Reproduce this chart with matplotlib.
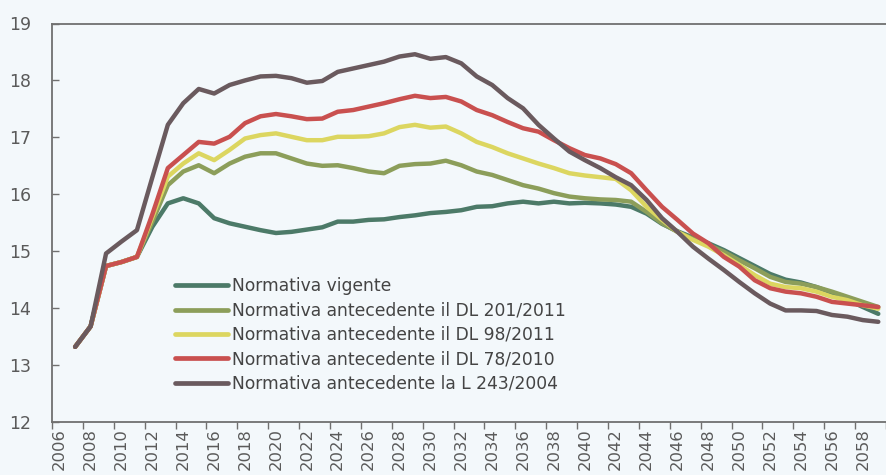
import numpy as np
import matplotlib.pyplot as plt

plt.rcParams['font.family'] = 'DejaVu Sans'

# ---------------------------------------------------------------------------
# dati
# ---------------------------------------------------------------------------
years = list(range(2007, 2060))

vigente = [13.32, 13.68, 14.74, 14.81, 14.90, 15.43, 15.84, 15.93, 15.84, 15.58,
           15.49, 15.43, 15.37, 15.32, 15.34, 15.38, 15.42, 15.52, 15.52, 15.55,
           15.56, 15.60, 15.63, 15.67, 15.69, 15.72, 15.78, 15.79, 15.84, 15.87,
           15.84, 15.87, 15.84, 15.85, 15.84, 15.82, 15.78, 15.66, 15.48, 15.35,
           15.24, 15.14, 15.02, 14.88, 14.74, 14.60, 14.50, 14.45, 14.37, 14.27,
           14.15, 14.02, 13.90]

dl_201_2011 = [13.32, 13.68, 14.74, 14.81, 14.90, 15.52, 16.16, 16.40, 16.51, 16.37,
               16.54, 16.66, 16.72, 16.72, 16.63, 16.54, 16.50, 16.51, 16.46, 16.40,
               16.37, 16.50, 16.53, 16.54, 16.59, 16.51, 16.40, 16.34, 16.25, 16.16,
               16.10, 16.02, 15.96, 15.93, 15.91, 15.90, 15.87, 15.69, 15.49, 15.34,
               15.22, 15.11, 14.99, 14.84, 14.70, 14.55, 14.46, 14.43, 14.37, 14.29,
               14.20, 14.11, 14.02]

dl_98_2011 = [13.32, 13.68, 14.74, 14.81, 14.90, 15.60, 16.31, 16.54, 16.72, 16.60,
              16.78, 16.98, 17.04, 17.07, 17.01, 16.95, 16.95, 17.01, 17.01, 17.02,
              17.07, 17.18, 17.22, 17.17, 17.19, 17.07, 16.92, 16.83, 16.72, 16.63,
              16.54, 16.46, 16.37, 16.33, 16.30, 16.27, 16.07, 15.78, 15.55, 15.34,
              15.20, 15.08, 14.93, 14.76, 14.58, 14.43, 14.37, 14.35, 14.29, 14.20,
              14.14, 14.05, 13.99]

dl_78_2010 = [13.32, 13.68, 14.74, 14.81, 14.90, 15.65, 16.46, 16.69, 16.92, 16.89,
              17.01, 17.25, 17.37, 17.41, 17.37, 17.32, 17.33, 17.45, 17.48, 17.54,
              17.60, 17.67, 17.73, 17.69, 17.71, 17.63, 17.48, 17.39, 17.27, 17.16,
              17.10, 16.95, 16.81, 16.69, 16.63, 16.53, 16.37, 16.07, 15.78, 15.55,
              15.31, 15.14, 14.90, 14.73, 14.49, 14.35, 14.29, 14.26, 14.20, 14.11,
              14.08, 14.05, 14.02]

l_243_2004 = [13.32, 13.68, 14.96, 15.17, 15.37, 16.30, 17.22, 17.60, 17.85, 17.77,
              17.92, 18.00, 18.07, 18.08, 18.04, 17.96, 17.99, 18.15, 18.21, 18.27,
              18.33, 18.42, 18.46, 18.38, 18.41, 18.30, 18.07, 17.92, 17.69, 17.51,
              17.22, 16.98, 16.75, 16.60, 16.46, 16.30, 16.16, 15.90, 15.58, 15.34,
              15.08, 14.87, 14.67, 14.46, 14.26, 14.08, 13.96, 13.96, 13.95, 13.88,
              13.85, 13.79, 13.76]

labels = ['Normativa vigente',
          'Normativa antecedente il DL 201/2011',
          'Normativa antecedente il DL 98/2011',
          'Normativa antecedente il DL 78/2010',
          'Normativa antecedente la L 243/2004']
colors = ['#4c7a68', '#8c9e5a', '#dcd660', '#c9504f', '#6a5a5e']
series = [vigente, dl_201_2011, dl_98_2011, dl_78_2010, l_243_2004]

# ---------------------------------------------------------------------------
# grafico
# ---------------------------------------------------------------------------
bg = '#f3f8fb'
grey = '#707070'

fig = plt.figure(figsize=(8.86, 4.75), dpi=100, facecolor=bg)
ax = fig.add_axes([52 / 886, 1 - 422 / 475, 834 / 886, 398.5 / 475])
ax.set_facecolor(bg)

for i, (vals, lab, col) in enumerate(zip(series, labels, colors)):
    ax.plot(years, vals, color=col, lw=3.2, label=lab, zorder=2 + i,
            solid_capstyle='round', solid_joinstyle='round')

ax.set_xlim(2005.5, 2005.5 + 834 / 15.75)
ax.set_ylim(12, 19)

# assi
for side in ['left', 'bottom', 'top']:
    ax.spines[side].set_color(grey)
    ax.spines[side].set_linewidth(1.3)
ax.spines['right'].set_visible(False)

ax.set_yticks(range(12, 20))
ax.tick_params(axis='y', direction='in', length=5, width=1, color=grey,
               labelsize=12.5, labelcolor='#5a5a5a', pad=15)

ax.set_xticks(np.arange(2005.5, 2060, 2))
ax.set_xticklabels([])
ax.set_xticks(range(2006, 2060, 2), minor=True)
ax.set_xticklabels([str(y) for y in range(2006, 2060, 2)], minor=True,
                   rotation=90, fontsize=11.8, color='#5a5a5a')
ax.tick_params(axis='x', which='major', direction='out', length=5, width=1, color=grey)
ax.tick_params(axis='x', which='minor', length=0, pad=4.5)

leg = ax.legend(loc='upper left', bbox_to_anchor=((175 - 52) / 834, (422 - 277) / 398.5),
                frameon=False, fontsize=12.3, handlelength=3.1, handletextpad=0.22,
                labelspacing=0.38, borderpad=0, borderaxespad=0)
for t in leg.get_texts():
    t.set_color('#444444')
for h in leg.get_lines():
    h.set_linewidth(3.4)

plt.savefig('out.png', dpi=100, facecolor=bg)
